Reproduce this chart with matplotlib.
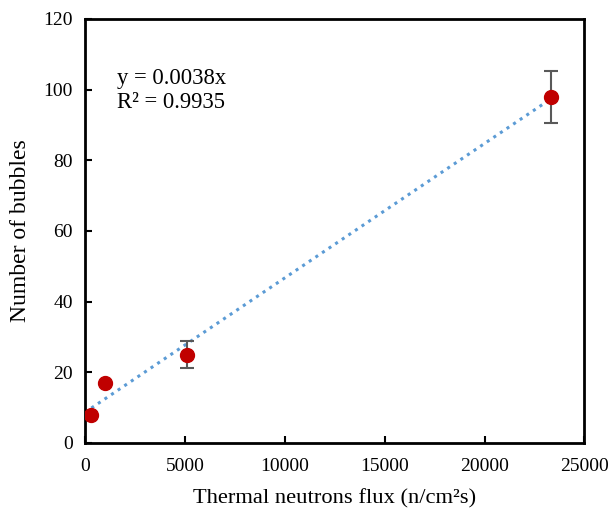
import numpy as np
import matplotlib.pyplot as plt

plt.rcParams['font.family'] = ['Liberation Serif', 'DejaVu Serif']

# measured flux vs bubble count
flux = np.array([300, 1000, 5100, 23350])
bubbles = np.array([8, 17, 25, 98])
err = np.array([0, 0, 3.8, 7.4])

fig, ax = plt.subplots(figsize=(6.1, 5.12), dpi=100)
fig.subplots_adjust(left=0.14, right=0.958, top=0.963, bottom=0.135)

# linear trendline (Excel style)
slope, icpt = np.polyfit(flux, bubbles, 1)
xl = np.array([flux.min(), flux.max()])
ax.plot(xl, slope * xl + icpt, ls=(0, (1, 1.6)), color='#5B9BD5', lw=2.2, zorder=2)

ax.errorbar(flux, bubbles, yerr=np.where(err > 0, err, np.nan), fmt='none',
            ecolor='#595959', elinewidth=1.5, capsize=5, capthick=1.5, zorder=3)
ax.plot(flux, bubbles, 'o', color='#C00000', ms=10, zorder=4)

ax.text(0.063, 0.885, 'y = 0.0038x\nR² = 0.9935', transform=ax.transAxes,
        fontsize=16.3, va='top', linespacing=1.2)

ax.set_xlim(0, 25000)
ax.set_ylim(0, 120)
ax.set_xticks(np.arange(0, 25001, 5000))
ax.set_yticks(np.arange(0, 121, 20))
ax.tick_params(direction='in', labelsize=14, width=1.5, length=5)
ax.tick_params(axis='x', pad=11)
ax.tick_params(axis='y', pad=9)
for s in ax.spines.values():
    s.set_linewidth(2)
ax.set_xlabel('Thermal neutrons flux (n/cm²s)', fontsize=16.2, labelpad=10)
ax.set_ylabel('Number of bubbles', fontsize=17, labelpad=9)

fig.savefig('out.png')
